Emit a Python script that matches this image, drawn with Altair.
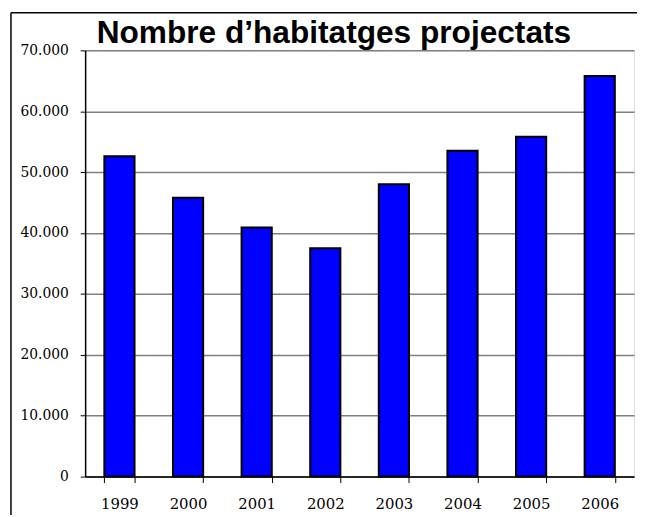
import altair as alt
import pandas as pd

years = ["1999", "2000", "2001", "2002", "2003", "2004", "2005", "2006"]
values = [52600, 45800, 40900, 37500, 48000, 53500, 55800, 65800]
title_text = "Nombre d\u2019habitatges projectats"

df = pd.DataFrame({"year": years, "value": values})

W, H = 555, 431
SERIF = "DejaVu Serif"

bars = alt.Chart(df).mark_bar(
    color="#0000FF", stroke="black", strokeWidth=2
).encode(
    x=alt.X("year:N", sort=years, title=None,
            scale=alt.Scale(paddingInner=0.56, paddingOuter=0.28),
            axis=alt.Axis(labelAngle=0, tickBand="extent", grid=False,
                          labelFont=SERIF, labelFontSize=15,
                          labelColor="black", tickColor="black", tickSize=6,
                          labelPadding=14, domainColor="black", domainWidth=1.5)),
    y=alt.Y("value:Q", title=None,
            scale=alt.Scale(domain=[0, 70000], nice=False),
            axis=alt.Axis(values=[0, 10000, 20000, 30000, 40000, 50000, 60000, 70000],
                          labelExpr="replace(format(datum.value, ',d'), ',', '.')",
                          labelFont=SERIF, labelFontSize=14,
                          labelColor="black", tickColor="black", tickSize=5,
                          labelPadding=12, domainColor="black", domainWidth=1.5,
                          grid=True, gridColor="#808080", gridWidth=1.5)),
)

title_df = pd.DataFrame({"t": [title_text]})
title_mark = alt.Chart(title_df).mark_text(
    font="'Liberation Sans', Arial, sans-serif", fontSize=32, fontWeight="bold",
    color="black", align="center", baseline="alphabetic", clip=False
).encode(x=alt.value(251.5), y=alt.value(-7.5), text="t:N")

frame_df = pd.DataFrame({"k": [0]})
frame_left = alt.Chart(frame_df).mark_rule(color="black", strokeWidth=1.5, clip=False).encode(
    x=alt.value(-75), y=alt.value(-38), y2=alt.value(H + 40)
)
frame_top = alt.Chart(frame_df).mark_rule(color="black", strokeWidth=1.5, clip=False).encode(
    x=alt.value(-75), x2=alt.value(W + 4), y=alt.value(-38)
)

chart = alt.layer(frame_left, frame_top, bars, title_mark).properties(
    width=W, height=H,
    autosize=alt.AutoSizeParams(type="none"),
    padding={"left": 78, "top": 40, "right": 3, "bottom": 36},
).configure_view(stroke="#808080", strokeWidth=1.5).configure(background="white")

chart.save("out.html", embed_options={"renderer": "svg", "actions": False})
